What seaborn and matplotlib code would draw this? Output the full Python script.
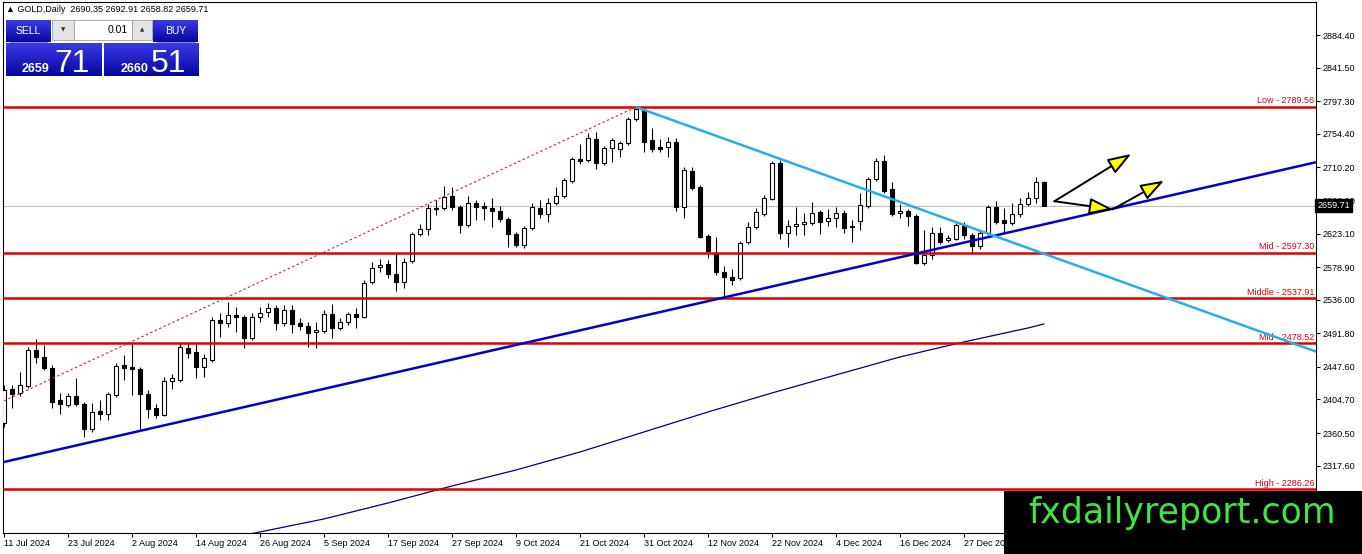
import numpy as np
import pandas as pd
import matplotlib
matplotlib.use("Agg")
import matplotlib.pyplot as plt
from matplotlib.patches import Rectangle
from matplotlib.colors import LinearSegmentedColormap
import seaborn as sns

# ---------------- data ----------------
header_text = "▲ GOLD,Daily  2690.35 2692.91 2658.82 2659.71"

opens = [
    2373.8, 2418.5, 2413.3, 2422.5, 2469.9, 2460.7, 2446.2, 2404.1, 2397.5, 2409.3,
    2398.8, 2365.9, 2389.6, 2385.6, 2410.6, 2450.1, 2447.5, 2444.9, 2412.0, 2393.5,
    2384.3, 2429.1, 2430.4, 2472.5, 2467.2, 2447.5, 2456.7, 2509.3, 2505.4, 2515.9,
    2513.3, 2485.7, 2513.3, 2519.9, 2525.1, 2505.4, 2522.5, 2505.4, 2501.4, 2493.6,
    2494.9, 2517.2, 2498.8, 2506.7, 2517.2, 2513.3, 2559.4, 2579.1, 2583.0, 2569.9,
    2559.4, 2587.0, 2622.5, 2629.1, 2656.7, 2656.7, 2672.5, 2658.1, 2634.4, 2663.3,
    2659.4, 2656.7, 2652.8, 2642.3, 2622.5, 2608.0, 2630.4, 2656.7, 2648.8, 2663.3,
    2672.5, 2692.3, 2721.2, 2719.9, 2747.5, 2715.9, 2735.7, 2734.4, 2742.3, 2773.9,
    2785.7, 2746.2, 2737.0, 2737.0, 2743.6, 2658.1, 2705.4, 2684.4, 2619.9, 2597.5,
    2572.5, 2565.9, 2564.6, 2612.0, 2631.7, 2648.8, 2668.6, 2715.9, 2623.8, 2633.0,
    2635.7, 2637.0, 2651.5, 2639.6, 2643.6, 2650.2, 2633.0, 2639.6, 2659.4, 2694.9,
    2718.6, 2681.7, 2650.2, 2652.8, 2646.2, 2584.4, 2594.9, 2623.8, 2614.6, 2615.9,
    2633.0, 2621.2, 2606.7, 2623.8, 2658.1, 2640.9, 2637.0, 2648.8, 2662.0, 2669.9,
    2690.35]
highs = [
    2424.0, 2424.0, 2441.0, 2473.8, 2484.4, 2476.5, 2450.0, 2413.3, 2413.3, 2433.0,
    2401.5, 2400.1, 2404.1, 2414.6, 2452.8, 2463.3, 2479.1, 2447.5, 2417.2, 2398.8,
    2434.4, 2438.3, 2479.1, 2479.1, 2480.4, 2464.6, 2513.3, 2518.6, 2533.0, 2527.0,
    2515.9, 2518.6, 2526.5, 2531.7, 2529.1, 2529.1, 2529.1, 2512.0, 2506.7, 2506.7,
    2522.5, 2530.4, 2512.0, 2519.9, 2525.1, 2562.0, 2585.7, 2589.6, 2588.3, 2597.5,
    2591.0, 2625.2, 2635.7, 2662.0, 2667.3, 2685.7, 2684.4, 2660.7, 2672.5, 2667.3,
    2664.6, 2669.9, 2659.4, 2644.9, 2625.2, 2633.0, 2663.3, 2667.3, 2669.9, 2684.4,
    2696.2, 2723.8, 2740.9, 2755.4, 2756.7, 2738.3, 2748.8, 2744.9, 2776.5, 2789.6,
    2788.3, 2762.0, 2747.5, 2750.2, 2748.9, 2710.7, 2710.7, 2687.0, 2622.5, 2618.6,
    2580.4, 2576.5, 2613.3, 2638.3, 2656.7, 2673.8, 2718.6, 2719.9, 2640.9, 2658.1,
    2650.2, 2664.6, 2654.1, 2655.4, 2658.1, 2654.1, 2640.9, 2676.5, 2697.5, 2722.5,
    2726.4, 2691.0, 2662.0, 2655.4, 2648.8, 2627.8, 2631.7, 2631.7, 2621.2, 2637.0,
    2638.3, 2623.8, 2626.5, 2660.7, 2665.9, 2656.7, 2663.3, 2669.9, 2677.8, 2697.5,
    2692.91]
lows = [
    2368.0, 2393.5, 2409.3, 2419.9, 2452.8, 2443.5, 2393.5, 2385.6, 2394.8, 2396.2,
    2355.4, 2362.0, 2377.7, 2377.7, 2408.0, 2430.4, 2410.6, 2364.6, 2380.4, 2380.4,
    2383.0, 2418.5, 2427.8, 2459.3, 2433.0, 2434.4, 2454.1, 2487.0, 2500.1, 2493.6,
    2472.5, 2483.0, 2506.7, 2513.3, 2496.2, 2501.4, 2492.2, 2496.2, 2473.8, 2472.5,
    2492.2, 2485.7, 2496.2, 2502.7, 2498.8, 2512.0, 2556.7, 2572.5, 2564.6, 2547.5,
    2551.5, 2584.4, 2619.9, 2621.2, 2647.5, 2654.1, 2654.1, 2623.8, 2631.7, 2640.9,
    2640.9, 2631.7, 2638.3, 2605.4, 2605.4, 2604.1, 2627.8, 2643.6, 2638.3, 2660.7,
    2669.9, 2689.6, 2714.6, 2717.3, 2708.0, 2713.3, 2717.3, 2723.8, 2739.6, 2771.2,
    2730.4, 2730.4, 2730.4, 2723.8, 2652.8, 2643.6, 2680.4, 2617.3, 2590.9, 2568.6,
    2539.6, 2555.4, 2562.0, 2609.4, 2629.1, 2646.2, 2667.3, 2616.0, 2605.4, 2621.2,
    2621.2, 2634.4, 2622.5, 2633.0, 2631.7, 2623.8, 2612.0, 2627.8, 2656.7, 2692.3,
    2676.5, 2646.2, 2643.6, 2633.0, 2583.0, 2581.7, 2589.6, 2609.4, 2612.0, 2614.6,
    2615.9, 2596.2, 2602.8, 2621.2, 2635.7, 2623.8, 2634.4, 2644.9, 2659.4, 2663.3,
    2658.82]
closes = [
    2417.2, 2412.0, 2423.8, 2469.9, 2460.7, 2446.2, 2401.5, 2398.8, 2409.3, 2398.8,
    2365.9, 2388.3, 2385.6, 2412.0, 2448.8, 2446.2, 2444.9, 2412.0, 2392.2, 2384.3,
    2429.1, 2433.0, 2473.8, 2465.9, 2447.5, 2459.3, 2509.3, 2505.4, 2515.9, 2513.0,
    2485.7, 2513.3, 2518.6, 2525.1, 2505.4, 2522.5, 2504.1, 2501.4, 2492.2, 2496.2,
    2517.2, 2498.8, 2506.7, 2517.2, 2513.3, 2558.0, 2577.8, 2581.7, 2569.9, 2559.4,
    2585.7, 2622.5, 2629.1, 2656.7, 2656.0, 2671.2, 2658.1, 2634.4, 2663.3, 2658.1,
    2656.7, 2652.8, 2642.3, 2622.5, 2608.0, 2630.4, 2658.1, 2648.8, 2663.3, 2672.5,
    2693.6, 2721.2, 2718.6, 2748.8, 2715.9, 2735.7, 2746.2, 2742.3, 2773.9, 2787.0,
    2743.6, 2734.4, 2734.4, 2743.6, 2658.1, 2706.7, 2683.1, 2618.6, 2600.1, 2572.5,
    2565.9, 2562.0, 2610.7, 2631.7, 2651.5, 2669.9, 2715.9, 2623.8, 2633.0, 2635.7,
    2638.3, 2650.2, 2638.3, 2643.6, 2650.2, 2630.4, 2631.7, 2660.7, 2694.9, 2718.6,
    2679.1, 2648.8, 2652.8, 2646.2, 2584.4, 2594.9, 2623.8, 2612.0, 2617.3, 2634.4,
    2621.2, 2606.7, 2623.8, 2658.1, 2638.3, 2637.0, 2648.8, 2662.0, 2669.9, 2690.9,
    2659.71]

tick_labels = ["11 Jul 2024", "23 Jul 2024", "2 Aug 2024", "14 Aug 2024", "26 Aug 2024",
               "5 Sep 2024", "17 Sep 2024", "27 Sep 2024", "9 Oct 2024", "21 Oct 2024",
               "31 Oct 2024", "12 Nov 2024", "22 Nov 2024", "4 Dec 2024", "16 Dec 2024",
               "27 Dec 2024"]
tick_bars = [0, 8, 16, 24, 32, 40, 48, 56, 64, 72, 80, 88, 96, 104, 112, 120]

price_ticks = [2884.40, 2841.50, 2797.30, 2754.40, 2710.20, 2666.90, 2623.10,
               2578.90, 2536.00, 2491.80, 2447.60, 2404.70, 2360.50, 2317.60]

level_names = ["Low", "Mid", "Middle", "Mid", "High"]
level_values = [2789.56, 2597.30, 2537.91, 2478.52, 2286.26]

ma_bars = [30, 32, 40, 48, 56, 64, 72, 80, 88, 96, 104, 112, 120, 128, 130]
ma_values = [2226.0, 2230.4, 2247.5, 2268.5, 2290.9, 2311.9, 2335.6, 2362.0,
             2388.3, 2413.3, 2437.0, 2460.7, 2480.5, 2498.8, 2504.1]

support_bars = [0, 130]
support_prices = [2322.5, 2635.2]
resist_bars = [79, 130]
resist_prices = [2789.6, 2596.5]
dotted_bars = [0, 79]
dotted_prices = [2402.8, 2789.6]

arrow_from_bars = [131.3, 131.3, 138.6]
arrow_from_prices = [2665.6, 2665.6, 2655.0]
arrow_to_bars = [140.9, 138.6, 145.0]
arrow_to_prices = [2727.8, 2655.0, 2692.7]

last_price = 2659.71
bid_parts = ["2659", "71"]
ask_parts = ["2660", "51"]
lot_text = "0.01"
watermark = "fxdailyreport.com"

# ---------------- style ----------------
sns.set_theme(style="white")
plt.rcParams["font.family"] = ["Liberation Sans", "DejaVu Sans"]
plt.rcParams["axes.linewidth"] = 0.8

W, H = 1362, 554
fig = plt.figure(figsize=(W / 100, H / 100), dpi=100, facecolor="white")
ax_l, ax_r, ax_t, ax_b = 3, 1316, 1.5, 533
ax = fig.add_axes([ax_l / W, (H - ax_b) / H, (ax_r - ax_l) / W, (ax_b - ax_t) / H])
ax.set_facecolor("white")

df = pd.DataFrame({"o": opens, "h": highs, "l": lows, "c": closes})
df["i"] = np.arange(len(df))
up = df["c"] >= df["o"]
body_bottom = np.minimum(df["o"], df["c"])
body_h = np.maximum((df["c"] - df["o"]).abs(), 0.9)

# current price line (behind candles)
ax.axhline(last_price, color="#c0c0c0", lw=0.8, zorder=1)

# candles
ax.vlines(df["i"], df["l"], df["h"], color="black", lw=0.8, zorder=3)
ax.bar(df["i"], body_h, bottom=body_bottom, width=0.58,
       color=np.where(up, "white", "black"), edgecolor="black", linewidth=0.8, zorder=4)

# moving average
sns.lineplot(x=ma_bars, y=ma_values, ax=ax, color="#000080", lw=0.9, zorder=5)

# horizontal levels
for name, val in zip(level_names, level_values):
    ax.axhline(val, color="#e00000", lw=1.8, zorder=6)
    ax.annotate(f"{name} - {val:.2f}", xy=(1, val), xycoords=("axes fraction", "data"),
                xytext=(-1, 1.2), textcoords="offset points", ha="right", va="bottom",
                color="#e00000", fontsize=6.5, zorder=7)

# dotted line to the peak
ax.plot(dotted_bars, dotted_prices, color="#d0203a", lw=0.8, ls=(0, (2.2, 2.2)), zorder=6)

# support trendline (extended both ways)
ax.axline((support_bars[0], support_prices[0]), (support_bars[1], support_prices[1]),
          color="#0000cd", lw=1.8, zorder=7)

# resistance trendline (ray from the peak)
slope = (resist_prices[1] - resist_prices[0]) / (resist_bars[1] - resist_bars[0])
ray_end = 175
ax.plot([resist_bars[0], ray_end],
        [resist_prices[0], resist_prices[0] + slope * (ray_end - resist_bars[0])],
        color="#27aee6", lw=1.8, zorder=7, solid_capstyle="butt")

# arrows
for fx, fy, tx, ty in zip(arrow_from_bars, arrow_from_prices, arrow_to_bars, arrow_to_prices):
    ax.annotate("", xy=(tx, ty), xytext=(fx, fy),
                arrowprops=dict(arrowstyle="-|>,head_length=1.2,head_width=0.42",
                                fc="#ffff00", ec="black", lw=1.4, shrinkA=0, shrinkB=0),
                zorder=8)

# axes limits / ticks
ax.set_xlim(-0.125, 164.0)
ax.set_ylim(2229.0, 2928.5)
ax.set_xticks(tick_bars)
ax.set_xticklabels(tick_labels, ha="left")
ax.set_yticks(price_ticks)
ax.set_yticklabels([f"{v:.2f}" for v in price_ticks])
ax.yaxis.tick_right()
ax.tick_params(axis="y", which="both", direction="out", length=3, width=0.8, pad=1.5,
               labelsize=6.5, colors="black", left=False, right=True)
ax.tick_params(axis="x", direction="out", length=3, width=0.8, pad=1.5,
               labelsize=6.5, colors="black", bottom=True)
ax.set_xlabel("")
ax.set_ylabel("")
for s in ax.spines.values():
    s.set_visible(True)
    s.set_color("black")
    s.set_linewidth(0.8)
ax.grid(False)

# current price tag on the axis
ax.text(1.0012, last_price, f"{last_price:.2f}", transform=ax.get_yaxis_transform(),
        ha="left", va="center", color="white", fontsize=6.5, zorder=20, clip_on=False,
        bbox=dict(boxstyle="square,pad=0.25", fc="black", ec="black"))

# ---------------- overlay (header, trade panel, watermark) ----------------
ov = fig.add_axes([0, 0, 1, 1], zorder=10)
ov.patch.set_alpha(0)
ov.axis("off")

cmap = LinearSegmentedColormap.from_list("mt4blue", ["#3a3ae6", "#0606a0"])
grad = np.linspace(0, 1, 64).reshape(-1, 1)


def blue_box(x0, y0, x1, y1):
    ov.imshow(grad, cmap=cmap, extent=(x0, x1, y1, y0), aspect="auto", zorder=11,
              interpolation="bilinear")


ov.text(6, 10, header_text, fontsize=6.5, color="black", ha="left", va="center",
        family=["Liberation Sans", "DejaVu Sans"], zorder=12)

blue_box(6, 20, 51, 42)
blue_box(153, 20, 198, 42)
blue_box(6, 43, 101.5, 76)
blue_box(104, 43, 198.5, 76)
ov.plot([10, 47], [41.5, 41.5], color="#8a8ae8", lw=0.7, zorder=12)
ov.plot([157, 195], [41.5, 41.5], color="#8a8ae8", lw=0.7, zorder=12)

ov.add_patch(Rectangle((52, 20), 22, 20, fc="#e4e4e4", ec="#a0a0a0", lw=0.6, zorder=12))
ov.add_patch(Rectangle((74, 20), 58, 20, fc="white", ec="#a0a0a0", lw=0.6, zorder=12))
ov.add_patch(Rectangle((132, 20), 20, 20, fc="#e4e4e4", ec="#a0a0a0", lw=0.6, zorder=12))
ov.text(63, 30, "▼", fontsize=4, color="#333333", ha="center", va="center",
        family=["DejaVu Sans"], zorder=13)
ov.text(142, 30, "▲", fontsize=4, color="#333333", ha="center", va="center",
        family=["DejaVu Sans"], zorder=13)
ov.text(128, 30, lot_text, fontsize=7.5, color="black", ha="right", va="center", zorder=13)
ov.text(28.5, 31, "SELL", fontsize=7.5, color="white", ha="center", va="center", zorder=13)
ov.text(175.5, 31, "BUY", fontsize=7.5, color="white", ha="center", va="center", zorder=13)

ov.text(22, 71.5, bid_parts[0], fontsize=9, fontweight="bold", color="white",
        ha="left", va="baseline", zorder=13)
ov.text(54, 71.5, bid_parts[1], fontsize=23, color="white", ha="left", va="baseline", zorder=13)
ov.text(120.5, 71.5, ask_parts[0], fontsize=9, fontweight="bold", color="white",
        ha="left", va="baseline", zorder=13)
ov.text(151, 71.5, ask_parts[1], fontsize=23, color="white", ha="left", va="baseline", zorder=13)

ov.add_patch(Rectangle((1004, 491), W - 1004, H - 491, fc="black", ec="none", zorder=14))
ov.text(1182.5, 523, watermark, fontsize=25, color="#3ee63e", ha="center", va="baseline",
        family=["DejaVu Sans"], zorder=15)

ov.set_xlim(0, W)
ov.set_ylim(H, 0)

fig.savefig("out.png", dpi=100, facecolor="white")
